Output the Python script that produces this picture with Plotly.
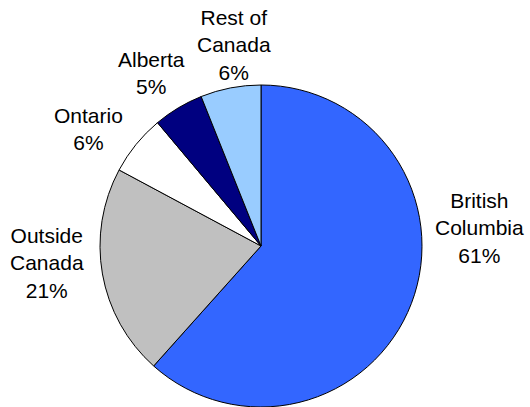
import plotly.graph_objects as go

# ---- data ----
labels = ["British Columbia", "Outside Canada", "Ontario", "Alberta", "Rest of Canada"]
label_lines = ["British<br>Columbia", "Outside<br>Canada", "Ontario", "Alberta", "Rest of<br>Canada"]
values = [61, 21, 6, 5, 6]
colors = ["#3366FF", "#C0C0C0", "#FFFFFF", "#000080", "#99CCFF"]

# ---- layout / styling ----
W, H = 530, 407
CX, CY, R = 261, 246, 161          # pie centre and radius in pixels
# label block centres (pixels from top-left), in slice order
label_pos = [(479, 228), (47, 263), (88, 129), (151, 73), (234, 45)]
FONT = dict(family="Arial, Liberation Sans, sans-serif", size=21, color="black")

fig = go.Figure(go.Pie(
    labels=labels,
    values=values,
    sort=False,
    direction="clockwise",
    rotation=0,
    marker=dict(colors=colors, line=dict(color="black", width=1)),
    textinfo="none",
    showlegend=False,
    hoverinfo="label+value",
    domain=dict(x=[(CX - R) / W, (CX + R) / W], y=[(H - CY - R) / H, (H - CY + R) / H]),
))

annotations = []
for txt, v, (px, py) in zip(label_lines, values, label_pos):
    annotations.append(dict(
        text=f"{txt}<br>{v}%",
        x=px / W, y=1 - py / H, xref="paper", yref="paper",
        xanchor="center", yanchor="middle", showarrow=False,
        font=FONT, align="center",
    ))

fig.update_layout(
    width=W, height=H,
    margin=dict(l=0, r=0, t=0, b=0),
    paper_bgcolor="white",
    plot_bgcolor="white",
    annotations=annotations,
)
fig.write_html(
    "out.html",
    config={"displayModeBar": False},
    post_script="document.body.style.margin='0';document.body.style.overflow='hidden';",
)
